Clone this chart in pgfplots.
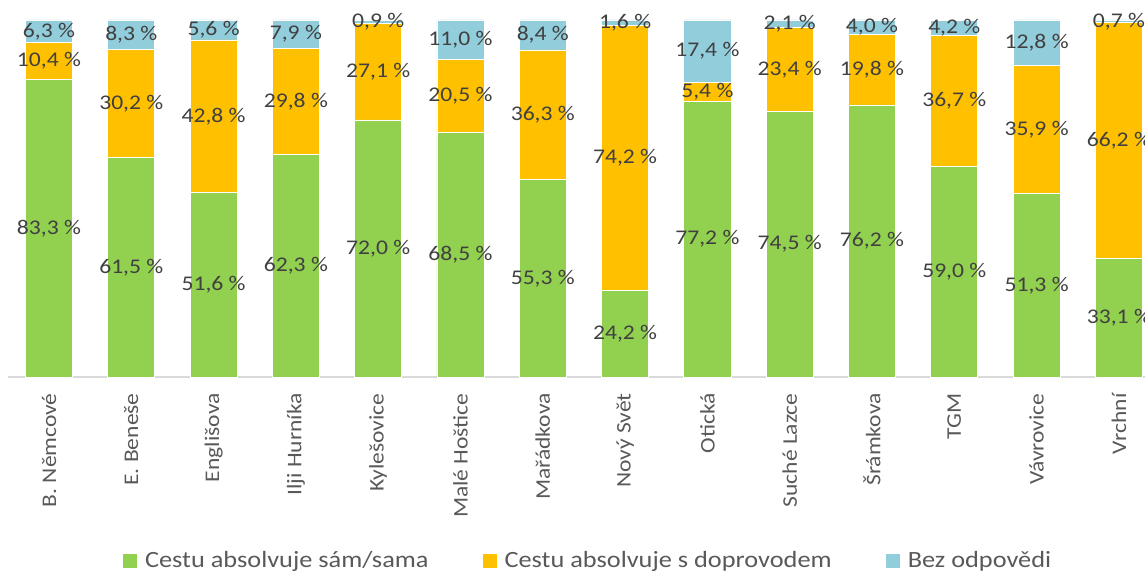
\documentclass[border=0pt]{standalone}
\usepackage{pgfplots}
\pgfplotsset{compat=1.18}
\usepackage{pgfplotstable}
\usepackage{fontspec}
\setmainfont{Carlito}[FakeStretch=1.13]
\definecolor{cgreen}{HTML}{92D050}
\definecolor{corange}{HTML}{FFC000}
\definecolor{cblue}{HTML}{92CDDC}
\definecolor{ctext}{HTML}{404040}
\definecolor{clab}{HTML}{595959}
\definecolor{caxis}{HTML}{D9D9D9}

\pgfplotstableread{
x a b c
0 83.3 10.4 6.3
1 61.5 30.2 8.3
2 51.6 42.8 5.6
3 62.3 29.8 7.9
4 72.0 27.1 0.9
5 68.5 20.5 11.0
6 55.3 36.3 8.4
7 24.2 74.2 1.6
8 77.2 5.4 17.4
9 74.5 23.4 2.1
10 76.2 19.8 4.0
11 59.0 36.7 4.2
12 51.3 35.9 12.8
13 33.1 66.2 0.7
}\data

\pgfplotsset{
  base/.style={
    scale only axis, width=576.1pt, height=178.5pt,
    at={(3.92pt,98pt)}, anchor=south west,
    xmin=-0.5, xmax=13.5, ymin=0, ymax=100,
    clip=false,
  },
  lab/.style={
    only marks, mark=none, draw=none,
    nodes near coords={\pgfmathprintnumber[fixed,fixed zerofill,precision=1,use comma,assume math mode=true]{\pgfplotspointmeta}\ \%},
    every node near coord/.append style={anchor=center, inner sep=0pt, text=ctext, font=\fontsize{10.45pt}{12pt}\selectfont},
    point meta=explicit,
  }
}

\begin{document}
\begin{tikzpicture}
\begin{scope}
\clip (0,0) rectangle (572.5pt,286.5pt);
\begin{axis}[base, ybar stacked, bar width=23.5pt,
  axis y line=none, axis x line*=bottom,
  x axis line style={draw=caxis, line width=0.75pt, -},
  xtick={0,...,13},
  xticklabels={B. Němcové, E. Beneše, Englišova, Ilji Hurníka, Kylešovice, Malé Hoštice, Mařádkova, Nový Svět, Otická, Suché Lazce, Šrámkova, TGM, Vávrovice, Vrchní},
  major tick length=0pt,
  xticklabel style={rotate=90, anchor=east, inner sep=0pt, font=\fontsize{10.4pt}{12pt}\selectfont, text=clab},
  xticklabel shift=8pt,
  legend columns=3,
  legend style={at={(0.5045,-0.5154)}, anchor=center, draw=none, fill=none,
    font=\fontsize{11.65pt}{14pt}\selectfont, text=clab, inner sep=0pt,
    /tikz/every odd column/.append style={column sep=1.8pt},
    /tikz/every even column/.append style={column sep=25pt}},
  legend image code/.code={\fill[#1, draw=none] (0pt,-3.6pt) rectangle (7.2pt,3.6pt);},
]
\addplot[fill=cgreen, draw=white, line width=0.4pt] table[x=x,y=a]{\data};
\addplot[fill=corange, draw=white, line width=0.4pt] table[x=x,y=b]{\data};
\addplot[fill=cblue, draw=white, line width=0.4pt] table[x=x,y=c]{\data};
\legend{Cestu absolvuje sám/sama, Cestu absolvuje s doprovodem, Bez odpovědi}
\end{axis}
\begin{axis}[base, hide axis]
\addplot[lab] table[x=x, y expr={\thisrow{a}/2}, meta=a]{\data};
\addplot[lab] table[x=x, y expr={\thisrow{a}+\thisrow{b}/2}, meta=b]{\data};
\addplot[lab] table[x=x, y expr={\thisrow{a}+\thisrow{b}+\thisrow{c}/2}, meta=c]{\data};
\end{axis}
\end{scope}
\pgfresetboundingbox
\path[use as bounding box] (0,0) rectangle (572.5pt,286.5pt);
\end{tikzpicture}
\end{document}
